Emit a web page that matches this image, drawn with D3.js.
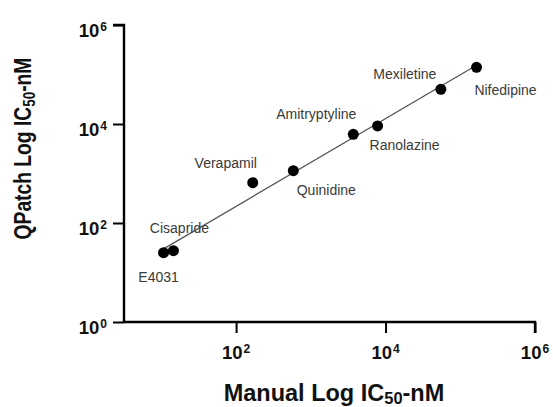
<!DOCTYPE html>
<html>
<head>
<meta charset="utf-8">
<script src="https://cdn.jsdelivr.net/npm/d3@7"></script>
<style>
  html, body { margin: 0; padding: 0; background: #fff; }
  svg { display: block; font-family: "Liberation Sans", Arial, Helvetica, sans-serif; }
</style>
</head>
<body>
<svg id="chart" width="553" height="407"></svg>
<script>
// ---- data ----
const compounds = ["E4031", "Cisapride", "Verapamil", "Quinidine", "Amitryptyline", "Ranolazine", "Mexiletine", "Nifedipine"];
const manualIC50 = [10.7, 14.5, 167, 583, 3700, 7820, 55000, 165000];   // nM
const qpatchIC50 = [25.1, 27.6, 652, 1140, 6190, 9120, 50200, 140000];  // nM
const tickExponents = [0, 2, 4, 6];
const xTitle = ["Manual Log IC", "50", "-nM"];
const yTitle = ["QPatch Log IC", "50", "-nM"];

// ---- label placement (layout, not data) ----
const labelOffset = {
  "E4031": [-5, 24], "Cisapride": [6, -23], "Verapamil": [-27, -20], "Quinidine": [33, 19],
  "Amitryptyline": [-37, -20], "Ranolazine": [27, 19], "Mexiletine": [-36, -15], "Nifedipine": [29, 23]
};

const svg = d3.select("#chart");
const x = d3.scaleLog().domain([Math.pow(10, 0.5), 1e6]).range([124, 535]);
const y = d3.scaleLog().domain([1, 1e6]).range([322, 25]);

// regression line (least squares in log space)
const lx = manualIC50.map(Math.log10), ly = qpatchIC50.map(Math.log10);
const mx = d3.mean(lx), my = d3.mean(ly);
const slope = d3.sum(lx.map((v, i) => (v - mx) * (ly[i] - my))) / d3.sum(lx.map(v => (v - mx) ** 2));
const icpt = my - slope * mx;
const xr = d3.extent(manualIC50);
svg.append("line")
  .attr("x1", x(xr[0])).attr("y1", y(Math.pow(10, icpt + slope * Math.log10(xr[0]))))
  .attr("x2", x(xr[1])).attr("y2", y(Math.pow(10, icpt + slope * Math.log10(xr[1]))))
  .attr("stroke", "#555").attr("stroke-width", 1.3);

// axes
const tickVals = tickExponents.map(e => Math.pow(10, e));
const xAxis = d3.axisBottom(x).tickValues(tickVals.filter(v => v >= x.domain()[0])).tickSize(11).tickFormat("");
const yAxis = d3.axisLeft(y).tickValues(tickVals).tickSize(11).tickFormat("");
const gx = svg.append("g").attr("transform", "translate(0,322)").call(xAxis);
const gy = svg.append("g").attr("transform", "translate(124,0)").call(yAxis);
[gx, gy].forEach(g => {
  g.select(".domain").attr("stroke", "#000").attr("stroke-width", 2.4);
  g.selectAll(".tick line").attr("stroke", "#000").attr("stroke-width", 2);
});
gx.select(".domain").attr("d", `M${x.range()[0]},0H${x.range()[1]}V11`);
gy.select(".domain").attr("d", `M-11,${y.range()[1]}H0V${y.range()[0]}`);

// tick labels with superscripts
function powLabel(sel, e) {
  sel.append("tspan").text("10");
  sel.append("tspan").attr("font-size", "12px").attr("dy", -6).attr("dx", 1).text(String(e));
}
tickExponents.forEach(e => {
  const t = svg.append("text").attr("x", 107).attr("y", y(Math.pow(10, e)) + 11.5)
    .attr("text-anchor", "end").attr("font-size", "18.5px").attr("font-weight", "bold").attr("fill", "#111");
  powLabel(t, e);
  if (Math.pow(10, e) >= x.domain()[0]) {
    const tx = svg.append("text").attr("x", x(Math.pow(10, e))).attr("y", 359)
      .attr("text-anchor", "middle").attr("font-size", "18.5px").attr("font-weight", "bold").attr("fill", "#111");
    powLabel(tx, e);
  }
});

// axis titles
function titleText(sel, parts, size) {
  sel.append("tspan").text(parts[0]);
  sel.append("tspan").attr("font-size", (size * 0.7) + "px").attr("dy", size * 0.17).text(parts[1]);
  sel.append("tspan").attr("dy", -size * 0.17).text(parts[2]);
}
const xt = svg.append("text").attr("x", 334).attr("y", 400.5).attr("text-anchor", "middle")
  .attr("font-size", "23.5px").attr("font-weight", "bold").attr("fill", "#111");
titleText(xt, xTitle, 23.5);
const yt = svg.append("text").attr("transform", "translate(31,148.5) rotate(-90) scale(0.82,1)")
  .attr("text-anchor", "middle").attr("font-size", "23.5px").attr("font-weight", "bold").attr("fill", "#111");
titleText(yt, yTitle, 23.5);

// points
svg.append("g").selectAll("circle").data(compounds).join("circle")
  .attr("cx", (d, i) => x(manualIC50[i])).attr("cy", (d, i) => y(qpatchIC50[i]))
  .attr("r", 5.5).attr("fill", "#000");

// labels
svg.append("g").selectAll("text").data(compounds).join("text")
  .attr("x", (d, i) => x(manualIC50[i]) + labelOffset[d][0])
  .attr("y", (d, i) => y(qpatchIC50[i]) + labelOffset[d][1])
  .attr("dy", "0.35em").attr("text-anchor", "middle")
  .attr("font-size", "14px").attr("fill", "#3a3a3a").text(d => d);
</script>
</body>
</html>
